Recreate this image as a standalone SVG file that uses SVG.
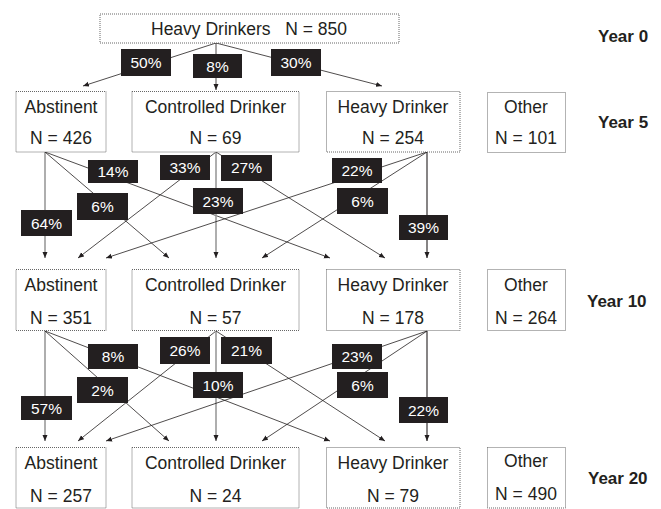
<svg xmlns="http://www.w3.org/2000/svg" width="661" height="509" viewBox="0 0 661 509">
<style>
.box{fill:#fff;stroke:#555;stroke-width:0.9;stroke-dasharray:1 1}
.nt{font-family:"Liberation Sans",Arial,sans-serif;font-size:17.5px;fill:#231f20;text-anchor:middle}
.yr{font-family:"Liberation Sans",Arial,sans-serif;font-size:17px;font-weight:bold;fill:#231f20}
.lb rect{fill:#231f20}
.lb text{font-family:"Liberation Sans",Arial,sans-serif;font-size:15.5px;fill:#fff;text-anchor:middle}
.c{stroke:#231f20;stroke-width:0.8;fill:none;marker-end:url(#ah)}
.g{stroke:#9a9a9a;stroke-width:1.6;fill:none;marker-end:url(#ah)}
.v{stroke:#231f20;stroke-width:1.1;fill:none;marker-end:url(#ah)}
</style>
<defs>
<marker id="ah" markerUnits="userSpaceOnUse" markerWidth="7" markerHeight="6" refX="6" refY="3" orient="auto">
<path d="M0,0.5 L6,3 L0,5.5 z" fill="#231f20"/>
</marker>
</defs>
<rect width="661" height="509" fill="#fff"/>

<g id="connectors">
<line class="c" x1="216" y1="43" x2="83" y2="86"/>
<line class="c" x1="216" y1="43" x2="216" y2="90"/>
<line class="c" x1="216" y1="43" x2="382" y2="86"/>

<line class="g" x1="45" y1="152" x2="45" y2="258"/>
<line class="c" x1="45" y1="152" x2="169" y2="258"/>
<line class="c" x1="45" y1="152" x2="330" y2="258"/>
<line class="c" x1="216" y1="152" x2="78" y2="258"/>
<line class="g" x1="216" y1="152" x2="216" y2="258"/>
<line class="c" x1="216" y1="152" x2="385" y2="258"/>
<line class="c" x1="427" y1="152" x2="106" y2="258"/>
<line class="c" x1="427" y1="152" x2="262" y2="258"/>
<line class="v" x1="427" y1="152" x2="427" y2="258"/>

<line class="g" x1="45" y1="331" x2="45" y2="441"/>
<line class="c" x1="45" y1="331" x2="169" y2="441"/>
<line class="c" x1="45" y1="331" x2="330" y2="441"/>
<line class="c" x1="216" y1="331" x2="78" y2="441"/>
<line class="g" x1="216" y1="331" x2="216" y2="441"/>
<line class="c" x1="216" y1="331" x2="385" y2="441"/>
<line class="c" x1="427" y1="331" x2="106" y2="441"/>
<line class="c" x1="427" y1="331" x2="262" y2="441"/>
<line class="v" x1="427" y1="331" x2="427" y2="441"/>
</g>

<g id="connector-labels" class="lb">
<rect x="121" y="49" width="50" height="27"/><text x="146" y="68">50%</text>
<rect x="193" y="54" width="49" height="24"/><text x="217.5" y="71.5">8%</text>
<rect x="271" y="49" width="50" height="27"/><text x="296" y="68">30%</text>

<rect x="88" y="160" width="50" height="23"/><text x="113" y="177">14%</text>
<rect x="160" y="155" width="50" height="25"/><text x="185" y="173">33%</text>
<rect x="221" y="155" width="51" height="26"/><text x="246.5" y="173">27%</text>
<rect x="77" y="193" width="51" height="27"/><text x="102.5" y="212">6%</text>
<rect x="193" y="188" width="50" height="26"/><text x="218" y="206.5">23%</text>
<rect x="332" y="158" width="50" height="25"/><text x="357" y="176">22%</text>
<rect x="337" y="188" width="51" height="26"/><text x="362.5" y="206.5">6%</text>
<rect x="399" y="215" width="49" height="25"/><text x="423.5" y="233">39%</text>
<rect x="21" y="210" width="51" height="26"/><text x="46.5" y="228.5">64%</text>

<rect x="88" y="344" width="50" height="25"/><text x="113" y="362">8%</text>
<rect x="160" y="337" width="50" height="27"/><text x="185" y="356">26%</text>
<rect x="221" y="337" width="51" height="27"/><text x="246.5" y="356">21%</text>
<rect x="77" y="377" width="51" height="26"/><text x="102.5" y="395.5">2%</text>
<rect x="193" y="372" width="50" height="26"/><text x="218" y="390.5">10%</text>
<rect x="332" y="344" width="50" height="25"/><text x="357" y="362">23%</text>
<rect x="337" y="372" width="51" height="26"/><text x="362.5" y="390.5">6%</text>
<rect x="21" y="396" width="51" height="24"/><text x="46.5" y="413.5">57%</text>
<rect x="399" y="397" width="49" height="26"/><text x="423.5" y="415.5">22%</text>
</g>

<g id="node-start">
<rect class="box" x="100" y="14" width="299" height="29"/>
<text class="nt" x="151" y="35" style="text-anchor:start">Heavy Drinkers</text>
<text class="nt" x="347" y="35" style="text-anchor:end">N = 850</text>
</g>

<g id="node-y5-abstinent">
<rect class="box" x="16" y="91.5" width="90" height="60.5"/>
<text class="nt" x="61" y="113">Abstinent</text>
<text class="nt" x="61" y="144">N = 426</text>
</g>
<g id="node-y5-controlled">
<rect class="box" x="132" y="91.5" width="167" height="60.5"/>
<text class="nt" x="215.5" y="113">Controlled Drinker</text>
<text class="nt" x="215.5" y="144">N = 69</text>
</g>
<g id="node-y5-heavy">
<rect class="box" x="326.5" y="91.5" width="133.5" height="60.5"/>
<text class="nt" x="393" y="113">Heavy Drinker</text>
<text class="nt" x="393" y="144">N = 254</text>
</g>
<g id="node-y5-other">
<rect class="box" x="487.5" y="92.5" width="78" height="60"/>
<text class="nt" x="526" y="113">Other</text>
<text class="nt" x="526" y="143.5">N = 101</text>
</g>

<g id="node-y10-abstinent">
<rect class="box" x="16" y="269.5" width="90" height="61"/>
<text class="nt" x="61" y="290.5">Abstinent</text>
<text class="nt" x="61" y="323.5">N = 351</text>
</g>
<g id="node-y10-controlled">
<rect class="box" x="132" y="269.5" width="167" height="61"/>
<text class="nt" x="215.5" y="290.5">Controlled Drinker</text>
<text class="nt" x="215.5" y="323.5">N = 57</text>
</g>
<g id="node-y10-heavy">
<rect class="box" x="326.5" y="269.5" width="133.5" height="61"/>
<text class="nt" x="393" y="290.5">Heavy Drinker</text>
<text class="nt" x="393" y="323.5">N = 178</text>
</g>
<g id="node-y10-other">
<rect class="box" x="487.5" y="269.5" width="78" height="61"/>
<text class="nt" x="526" y="290.5">Other</text>
<text class="nt" x="526" y="323.5">N = 264</text>
</g>

<g id="node-y20-abstinent">
<rect class="box" x="16" y="447.5" width="90" height="60.5"/>
<text class="nt" x="61" y="468.5">Abstinent</text>
<text class="nt" x="61" y="501.5">N = 257</text>
</g>
<g id="node-y20-controlled">
<rect class="box" x="132" y="447.5" width="167" height="60.5"/>
<text class="nt" x="215.5" y="468.5">Controlled Drinker</text>
<text class="nt" x="215.5" y="501.5">N = 24</text>
</g>
<g id="node-y20-heavy">
<rect class="box" x="326.5" y="447.5" width="133.5" height="60.5"/>
<text class="nt" x="393" y="468.5">Heavy Drinker</text>
<text class="nt" x="393" y="501.5">N = 79</text>
</g>
<g id="node-y20-other">
<rect class="box" x="487.5" y="447.5" width="78" height="60.5"/>
<text class="nt" x="526" y="467">Other</text>
<text class="nt" x="526" y="500">N = 490</text>
</g>

<g id="year-labels">
<text class="yr" x="598" y="41.5">Year 0</text>
<text class="yr" x="598" y="128">Year 5</text>
<text class="yr" x="587" y="307">Year 10</text>
<text class="yr" x="588" y="484">Year 20</text>
</g>
</svg>
